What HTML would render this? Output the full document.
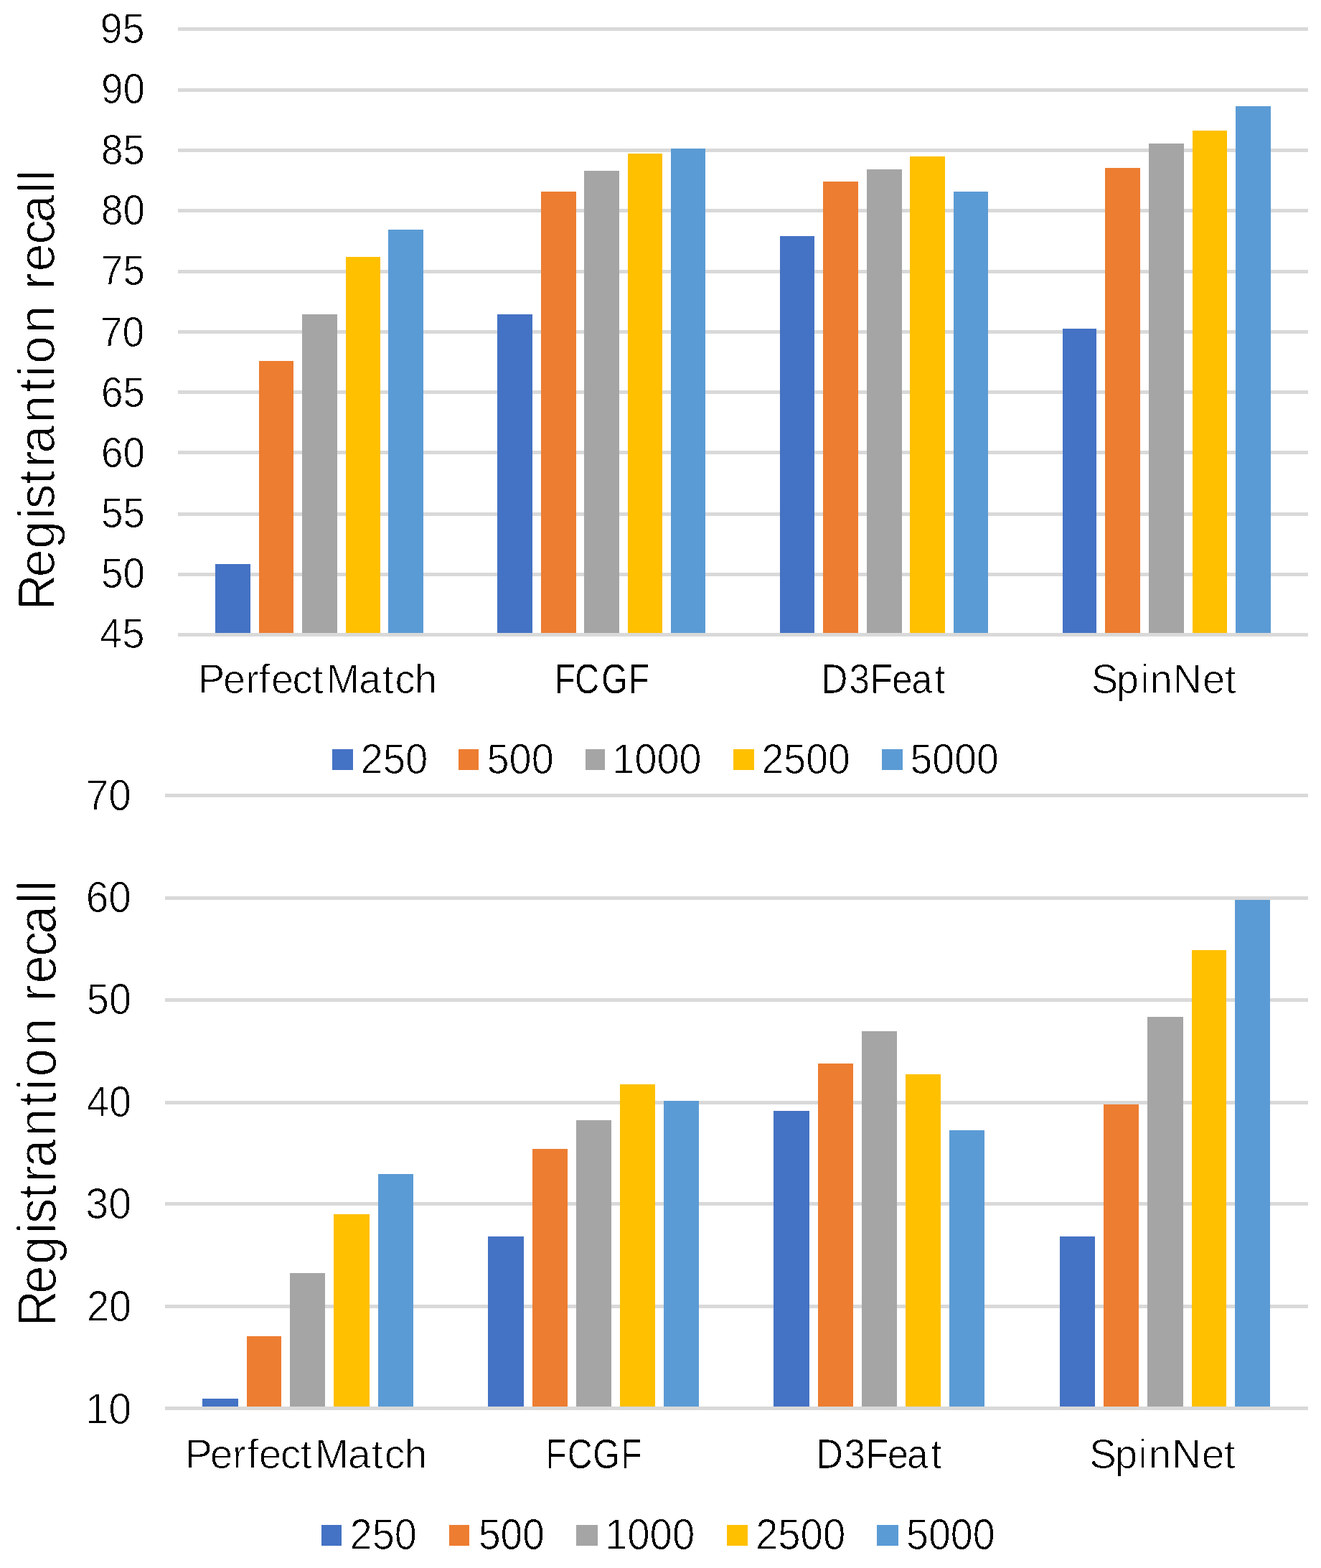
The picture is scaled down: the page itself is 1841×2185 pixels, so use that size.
<!DOCTYPE html>
<html><head><meta charset="utf-8"><title>Registration recall</title>
<style>
html,body{margin:0;padding:0;background:#fff;}
body{width:1841px;height:2185px;overflow:hidden;}
svg{display:block;}
text{font-family:'Liberation Sans', Arial, sans-serif;fill:#000;stroke:#fff;}
</style></head>
<body>
<svg width="1841" height="2185" viewBox="0 0 1841 2185">
<defs><filter id="crisp" x="0" y="0" width="1841" height="2185" filterUnits="userSpaceOnUse" color-interpolation-filters="sRGB"><feColorMatrix type="matrix" values="0 0 0 0 0  0 0 0 0 0  0 0 0 0 0  -1 0 0 1 0"/><feComponentTransfer><feFuncA type="discrete" tableValues="0 1"/></feComponentTransfer></filter></defs>
<rect x="0" y="0" width="1841" height="2185" fill="#fff"/>
<rect x="248" y="38" width="1575" height="5" fill="#D9D9D9"/>
<rect x="248" y="123" width="1575" height="5" fill="#D9D9D9"/>
<rect x="248" y="207" width="1575" height="5" fill="#D9D9D9"/>
<rect x="248" y="291" width="1575" height="5" fill="#D9D9D9"/>
<rect x="248" y="376" width="1575" height="5" fill="#D9D9D9"/>
<rect x="248" y="460" width="1575" height="5" fill="#D9D9D9"/>
<rect x="248" y="544" width="1575" height="5" fill="#D9D9D9"/>
<rect x="248" y="628" width="1575" height="5" fill="#D9D9D9"/>
<rect x="248" y="714" width="1575" height="5" fill="#D9D9D9"/>
<rect x="248" y="798" width="1575" height="5" fill="#D9D9D9"/>
<rect x="248" y="882" width="1575" height="5" fill="#D9D9D9"/>
<rect x="300" y="786" width="49" height="96" fill="#4472C4"/>
<rect x="361" y="503" width="48" height="379" fill="#ED7D31"/>
<rect x="421" y="438" width="49" height="444" fill="#A5A5A5"/>
<rect x="482" y="358" width="48" height="524" fill="#FFC000"/>
<rect x="541" y="320" width="49" height="562" fill="#5B9BD5"/>
<rect x="693" y="438" width="49" height="444" fill="#4472C4"/>
<rect x="754" y="267" width="49" height="615" fill="#ED7D31"/>
<rect x="814" y="238" width="49" height="644" fill="#A5A5A5"/>
<rect x="875" y="214" width="48" height="668" fill="#FFC000"/>
<rect x="935" y="207" width="48" height="675" fill="#5B9BD5"/>
<rect x="1087" y="329" width="48" height="553" fill="#4472C4"/>
<rect x="1147" y="253" width="49" height="629" fill="#ED7D31"/>
<rect x="1208" y="236" width="49" height="646" fill="#A5A5A5"/>
<rect x="1268" y="218" width="49" height="664" fill="#FFC000"/>
<rect x="1329" y="267" width="48" height="615" fill="#5B9BD5"/>
<rect x="1481" y="458" width="47" height="424" fill="#4472C4"/>
<rect x="1540" y="234" width="49" height="648" fill="#ED7D31"/>
<rect x="1601" y="200" width="49" height="682" fill="#A5A5A5"/>
<rect x="1662" y="182" width="48" height="700" fill="#FFC000"/>
<rect x="1722" y="148" width="49" height="734" fill="#5B9BD5"/>
<rect x="230" y="1106" width="1593" height="5" fill="#D9D9D9"/>
<rect x="230" y="1249" width="1593" height="5" fill="#D9D9D9"/>
<rect x="230" y="1391" width="1593" height="5" fill="#D9D9D9"/>
<rect x="230" y="1534" width="1593" height="5" fill="#D9D9D9"/>
<rect x="230" y="1675" width="1593" height="5" fill="#D9D9D9"/>
<rect x="230" y="1818" width="1593" height="5" fill="#D9D9D9"/>
<rect x="230" y="1960" width="1593" height="5" fill="#D9D9D9"/>
<rect x="282" y="1949" width="50" height="11" fill="#4472C4"/>
<rect x="344" y="1862" width="48" height="98" fill="#ED7D31"/>
<rect x="404" y="1774" width="49" height="186" fill="#A5A5A5"/>
<rect x="465" y="1692" width="50" height="268" fill="#FFC000"/>
<rect x="527" y="1636" width="49" height="324" fill="#5B9BD5"/>
<rect x="680" y="1723" width="50" height="237" fill="#4472C4"/>
<rect x="742" y="1601" width="49" height="359" fill="#ED7D31"/>
<rect x="803" y="1561" width="49" height="399" fill="#A5A5A5"/>
<rect x="864" y="1511" width="49" height="449" fill="#FFC000"/>
<rect x="925" y="1534" width="49" height="426" fill="#5B9BD5"/>
<rect x="1078" y="1548" width="50" height="412" fill="#4472C4"/>
<rect x="1140" y="1482" width="49" height="478" fill="#ED7D31"/>
<rect x="1201" y="1437" width="49" height="523" fill="#A5A5A5"/>
<rect x="1262" y="1497" width="49" height="463" fill="#FFC000"/>
<rect x="1323" y="1575" width="49" height="385" fill="#5B9BD5"/>
<rect x="1477" y="1723" width="49" height="237" fill="#4472C4"/>
<rect x="1538" y="1539" width="49" height="421" fill="#ED7D31"/>
<rect x="1599" y="1417" width="50" height="543" fill="#A5A5A5"/>
<rect x="1661" y="1324" width="48" height="636" fill="#FFC000"/>
<rect x="1721" y="1254" width="49" height="706" fill="#5B9BD5"/>
<rect x="463" y="1044" width="29" height="29" fill="#4472C4"/>
<rect x="448" y="2125" width="28" height="29" fill="#4472C4"/>
<rect x="639" y="1044" width="28" height="29" fill="#ED7D31"/>
<rect x="626" y="2125" width="28" height="29" fill="#ED7D31"/>
<rect x="816" y="1044" width="27" height="29" fill="#A5A5A5"/>
<rect x="803" y="2125" width="30" height="29" fill="#A5A5A5"/>
<rect x="1022" y="1044" width="29" height="29" fill="#FFC000"/>
<rect x="1013" y="2125" width="29" height="29" fill="#FFC000"/>
<rect x="1229" y="1044" width="29" height="29" fill="#5B9BD5"/>
<rect x="1222" y="2125" width="30" height="29" fill="#5B9BD5"/>
<g class="txt" filter="url(#crisp)">
<text transform="translate(201.75,59.50) scale(0.9443,1)" font-size="59.34" text-anchor="end" stroke-width="0.98">95</text>
<text transform="translate(202.00,143.90) scale(0.9250,1)" font-size="59.34" text-anchor="end" stroke-width="0.89">90</text>
<text transform="translate(202.00,229.10) scale(0.9250,1)" font-size="59.34" text-anchor="end" stroke-width="0.89">85</text>
<text transform="translate(202.00,313.10) scale(0.9250,1)" font-size="59.34" text-anchor="end" stroke-width="0.89">80</text>
<text transform="translate(202.00,396.80) scale(0.9250,1)" font-size="59.34" text-anchor="end" stroke-width="0.89">75</text>
<text transform="translate(201.20,482.50) scale(0.9284,1)" font-size="59.34" text-anchor="end" stroke-width="0.91">70</text>
<text transform="translate(202.00,566.70) scale(0.9250,1)" font-size="59.34" text-anchor="end" stroke-width="0.89">65</text>
<text transform="translate(202.00,650.90) scale(0.9250,1)" font-size="59.34" text-anchor="end" stroke-width="0.89">60</text>
<text transform="translate(202.00,734.60) scale(0.9250,1)" font-size="59.34" text-anchor="end" stroke-width="0.89">55</text>
<text transform="translate(202.00,819.30) scale(0.9250,1)" font-size="59.34" text-anchor="end" stroke-width="0.89">50</text>
<text transform="translate(201.50,903.00) scale(0.9497,1)" font-size="59.34" text-anchor="end" stroke-width="1.00">45</text>
<text transform="translate(183.00,1129.00) scale(0.9403,1)" font-size="60.49" text-anchor="end" stroke-width="1.06">70</text>
<text transform="translate(183.00,1271.25) scale(0.9403,1)" font-size="60.49" text-anchor="end" stroke-width="1.06">60</text>
<text transform="translate(183.00,1413.35) scale(0.9250,1)" font-size="60.49" text-anchor="end" stroke-width="0.99">50</text>
<text transform="translate(183.00,1555.95) scale(0.9250,1)" font-size="60.49" text-anchor="end" stroke-width="0.99">40</text>
<text transform="translate(183.20,1698.35) scale(0.9517,1)" font-size="60.49" text-anchor="end" stroke-width="1.11">30</text>
<text transform="translate(183.20,1840.55) scale(0.9250,1)" font-size="60.49" text-anchor="end" stroke-width="0.99">20</text>
<text transform="translate(183.20,1983.75) scale(0.9529,1)" font-size="60.49" text-anchor="end" stroke-width="1.12">10</text>
<text transform="translate(0,966.30) scale(0.9863,1)" x="279.76 315.26 347.03 365.88 383.24 413.27 440.97 461.09 507.10 540.44 558.20 586.05" y="0" font-size="56.55" stroke-width="0.91">PerfectMatch</text>
<text transform="translate(0,965.55) scale(0.8315,1)" x="929.80 963.43 1008.01 1053.60" y="0" font-size="56.55" stroke-width="0.16">FCGF</text>
<text transform="translate(0,966.30) scale(0.9129,1)" x="1253.51 1296.31 1328.35 1361.70 1391.78 1427.02" y="0" font-size="56.55" stroke-width="0.59">D3Feat</text>
<text transform="translate(0,966.05) scale(0.9916,1)" x="1533.87 1568.98 1602.72 1616.17 1648.46 1690.19 1721.38" y="0" font-size="56.55" stroke-width="0.94">SpinNet</text>
<text transform="translate(0,2045.50) scale(1.0059,1)" x="256.58 291.01 322.10 342.23 358.66 388.47 416.36 436.07 482.12 514.88 532.67 560.29" y="0" font-size="56.55" stroke-width="0.99">PerfectMatch</text>
<text transform="translate(0,2045.75) scale(0.8525,1)" x="891.79 927.48 969.18 1015.07" y="0" font-size="56.55" stroke-width="0.28">FCGF</text>
<text transform="translate(0,2046.00) scale(0.9359,1)" x="1214.66 1257.03 1288.32 1321.40 1350.65 1386.37" y="0" font-size="56.55" stroke-width="0.70">D3Feat</text>
<text transform="translate(0,2046.25) scale(1.0088,1)" x="1504.89 1539.89 1572.39 1586.63 1618.69 1660.04 1690.92" y="0" font-size="56.55" stroke-width="1.00">SpinNet</text>
<text transform="translate(502.50,1077.80) scale(0.9531,1)" font-size="59.03" text-anchor="start" stroke-width="0.99">250</text>
<text transform="translate(678.50,1077.80) scale(0.9473,1)" font-size="59.03" text-anchor="start" stroke-width="0.97">500</text>
<text transform="translate(853.50,1077.80) scale(0.9433,1)" font-size="59.03" text-anchor="start" stroke-width="0.95">1000</text>
<text transform="translate(1061.50,1078.05) scale(0.9388,1)" font-size="59.03" text-anchor="start" stroke-width="0.93">2500</text>
<text transform="translate(1268.50,1078.05) scale(0.9390,1)" font-size="59.03" text-anchor="start" stroke-width="0.93">5000</text>
<text transform="translate(487.50,2158.55) scale(0.9261,1)" font-size="60.46" text-anchor="start" stroke-width="1.00">250</text>
<text transform="translate(667.00,2159.30) scale(0.9107,1)" font-size="60.46" text-anchor="start" stroke-width="0.92">500</text>
<text transform="translate(843.00,2159.05) scale(0.9315,1)" font-size="60.46" text-anchor="start" stroke-width="1.02">1000</text>
<text transform="translate(1053.00,2159.05) scale(0.9312,1)" font-size="60.46" text-anchor="start" stroke-width="1.02">2500</text>
<text transform="translate(1263.00,2159.05) scale(0.9193,1)" font-size="60.46" text-anchor="start" stroke-width="0.96">5000</text>
<text transform="translate(75.75,0) rotate(-90) scale(0.9591,1)" x="-886.60 -838.61 -797.31 -753.88 -739.38 -703.70 -679.02 -658.28 -614.47 -570.14 -547.39 -528.34 -484.03 -463.88 -420.30 -394.35 -354.96 -323.39 -280.72 -262.89" y="0" font-size="72.53" stroke-width="1.16">Registrantion recall</text>
<text transform="translate(77.60,0) rotate(-90) scale(0.9211,1)" x="-2007.13 -1957.04 -1912.83 -1866.68 -1851.02 -1813.65 -1788.60 -1766.09 -1719.40 -1673.65 -1649.43 -1629.07 -1582.61 -1561.32 -1515.11 -1488.02 -1446.82 -1413.07 -1367.29 -1348.72" y="0" font-size="76.62" stroke-width="1.31">Registrantion recall</text>
</g>
</svg>
</body></html>
